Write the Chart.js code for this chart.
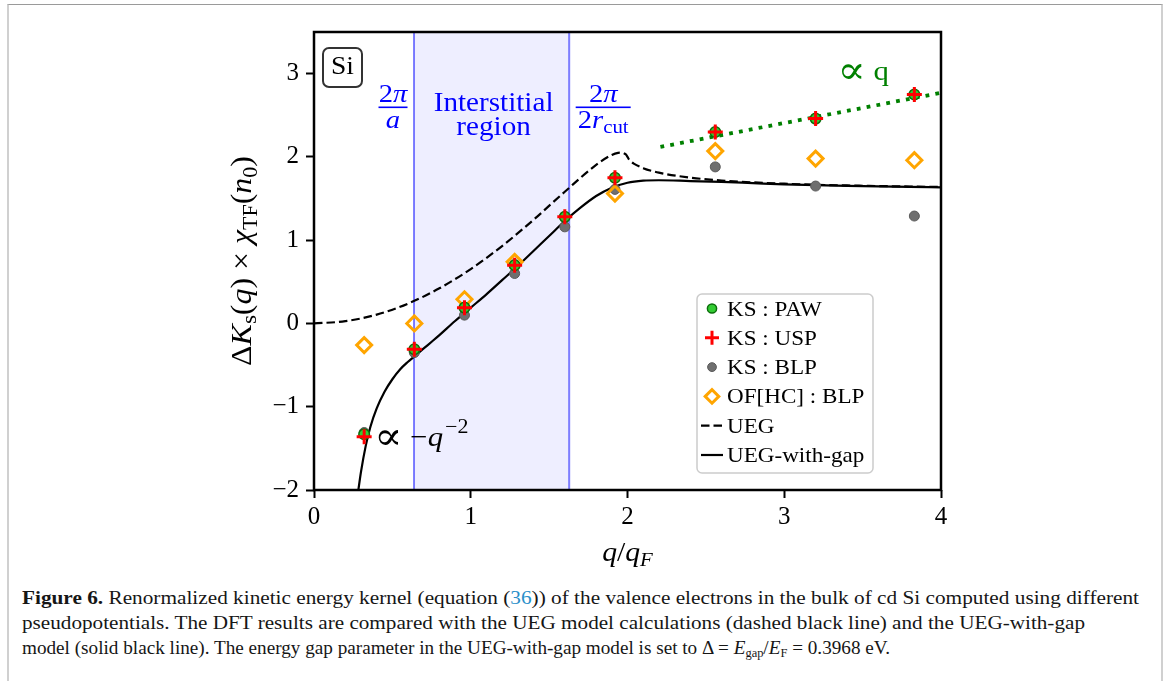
<!DOCTYPE html>
<html>
<head>
<meta charset="utf-8">
<script src="https://cdn.jsdelivr.net/npm/chart.js@4.4.1/dist/chart.umd.min.js"></script>
<style>
  html, body { margin: 0; padding: 0; background: #fff; }
  body { width: 1167px; height: 681px; position: relative; overflow: hidden; }
  #frame { position: absolute; left: 7px; top: 4px; width: 1152px; height: 720px;
           border-left: 2px solid #d0d0d0; border-right: 2px solid #d0d0d0; border-top: 1px solid #9a9a9a; }
  #plot { position: absolute; left: 0; top: 0; }
  #caption { position: absolute; left: 22px; top: 586px; font-family: "Liberation Serif", serif;
             font-size: 18.5px; color: #161616; }
  .ln { white-space: nowrap; height: 25px; line-height: 25px; transform-origin: 0 50%; width: max-content; }
  .ln sub { font-size: 12px; vertical-align: -3px; line-height: 0; }
  .ref { color: #2a8fc9; }
</style>
</head>
<body>
<div id="frame"></div>
<canvas id="plot" width="1167" height="580"></canvas>
<div id="caption">
  <div class="ln" data-w="1117"><b>Figure 6.</b> Renormalized kinetic energy kernel (equation (<span class="ref">36</span>)) of the valence electrons in the bulk of cd Si computed using different</div>
  <div class="ln" data-w="1063">pseudopotentials. The DFT results are compared with the UEG model calculations (dashed black line) and the UEG-with-gap</div>
  <div class="ln" data-w="868">model (solid black line). The energy gap parameter in the UEG-with-gap model is set to Δ = <i>E</i><sub>gap</sub>/<i>E</i><sub>F</sub> = 0.3968 eV.</div>
</div>
<script>
// ---- data ---------------------------------------------------------------
// wave vectors of the sampled points (q / q_F)
const qSample  = [0.32, 0.64, 0.96, 1.28, 1.60, 1.92, 2.56, 3.20, 3.83];
// renormalized kernel values for each pseudopotential / method
const ksPAW    = [-1.33, -0.31, 0.19, 0.70, 1.28, 1.75, 2.30, 2.46, 2.75];
const ksUSP    = [-1.36, -0.31, 0.19, 0.70, 1.28, 1.75, 2.30, 2.46, 2.75];
const ksBLP    = [-1.31, -0.35, 0.10, 0.60, 1.16, 1.61, 1.88, 1.65, 1.29];
const ofhcBLP  = [-0.26, 0.00, 0.29, 0.74, null, 1.56, 2.07, 1.98, 1.96];

// UEG model curve
const uegQ = [0, 0.2, 0.4, 0.6, 0.8, 1.0, 1.2, 1.4, 1.6, 1.8, 1.9, 1.94, 1.96, 1.98, 1.99, 2.0,
              2.01, 2.02, 2.04, 2.1, 2.2, 2.4, 2.6, 2.8, 3.0, 3.2, 3.4, 3.6, 3.8, 4.0];
const uegK = [0, 0.027, 0.106, 0.238, 0.422, 0.653, 0.930, 1.244, 1.582, 1.904, 2.024, 2.049, 2.051, 2.041, 2.028, 2.000,
              1.968, 1.949, 1.920, 1.865, 1.811, 1.751, 1.717, 1.694, 1.678, 1.666, 1.657, 1.650, 1.644, 1.639];

// UEG-with-gap model curve
const gapQ = [0.28, 0.30, 0.33, 0.36, 0.40, 0.45, 0.50, 0.55, 0.60, 0.65, 0.70, 0.76, 0.80, 0.90,
              1.0, 1.1, 1.2, 1.3, 1.4, 1.5, 1.6, 1.7, 1.8, 1.9, 2.0, 2.1, 2.2, 2.4, 2.6, 2.8, 3.0, 3.2, 3.5, 3.8, 4.0];
const gapK = [-2.04, -1.78, -1.47, -1.24, -1.02, -0.82, -0.67, -0.55, -0.46, -0.38, -0.30, -0.205, -0.14, 0.03,
              0.19, 0.35, 0.52, 0.69, 0.87, 1.05, 1.23, 1.39, 1.53, 1.63, 1.69, 1.715, 1.72, 1.71, 1.70, 1.685, 1.67, 1.66, 1.65, 1.64, 1.635];

// linear (∝ q) guide
const trendQ = [2.21, 4.0];
const trendK = [2.12, 2.77];

// characteristic wave vectors: 2π/a and 2π/(2 r_cut)
const qLattice = 0.638;
const qCut = 1.628;

// axis ranges and tick labels
const xMin = 0, xMax = 4, yMin = -2, yMax = 3.5;
const xTicks = [0, 1, 2, 3, 4];
const yTicks = [-2, -1, 0, 1, 2, 3];

// ---- helpers ------------------------------------------------------------
const pts = (xs, ys) => xs.map((x, i) => ({ x, y: ys[i] })).filter(p => p.y !== null);
const FAM = '"Liberation Serif", "DejaVu Serif", serif';
const F = (size, italic) => (italic ? 'italic ' : '') + size + 'px ' + FAM;
const STRETCH = 1.1;

function segWidth(ctx, s) { ctx.font = s.f; return ctx.measureText(s.t).width * STRETCH + (s.gap || 0); }
function richWidth(ctx, segs) { return segs.reduce((w, s) => w + segWidth(ctx, s), 0); }
function drawRich(ctx, segs, x, y, align, color) {
  const w = richWidth(ctx, segs);
  let cx = align === 'center' ? x - w / 2 : align === 'right' ? x - w : x;
  ctx.fillStyle = color || '#000';
  ctx.textAlign = 'left';
  ctx.textBaseline = 'alphabetic';
  for (const s of segs) {
    ctx.font = s.f;
    ctx.save();
    ctx.translate(cx, y + (s.dy || 0));
    ctx.scale(STRETCH, 1);
    ctx.fillText(s.t, 0, 0);
    ctx.restore();
    cx += segWidth(ctx, s);
  }
  return w;
}
const fmtTick = v => (v < 0 ? '\u2212' + Math.abs(v) : String(v));

// ---- decorations plugin -------------------------------------------------
const decorations = {
  id: 'decorations',
  beforeDatasetsDraw(chart) {
    const { ctx, chartArea: a, scales: { x } } = chart;
    ctx.save();
    ctx.fillStyle = 'rgba(0, 0, 255, 0.065)';
    const x0 = x.getPixelForValue(qLattice), x1 = x.getPixelForValue(qCut);
    ctx.fillRect(x0, a.top, x1 - x0, a.bottom - a.top);
    ctx.restore();
  },
  afterDatasetsDraw(chart) {
    const { ctx, chartArea: a, scales: { x, y } } = chart;
    ctx.save();

    // frame
    ctx.strokeStyle = '#000';
    ctx.lineWidth = 2.5;
    ctx.strokeRect(a.left, a.top, a.right - a.left, a.bottom - a.top);

    // element label box
    const bx = a.left + 9, by = a.top + 16, bw = 39, bh = 39;
    ctx.beginPath();
    ctx.roundRect(bx, by, bw, bh, 6);
    ctx.fillStyle = '#fff';
    ctx.fill();
    ctx.lineWidth = 2;
    ctx.strokeStyle = '#333';
    ctx.stroke();
    drawRich(ctx, [{ t: 'Si', f: F(25) }], bx + bw / 2, by + 26, 'center', '#000');

    // 2π/a fraction
    const blue = '#0000ff';
    const xa = x.getPixelForValue(qLattice) - 21;
    drawRich(ctx, [{ t: '2', f: F(26) }, { t: 'π', f: F(26, true) }], xa, a.top + 70, 'center', blue);
    ctx.fillStyle = blue;
    ctx.fillRect(xa - 14.5, a.top + 74.5, 29, 1.6);
    drawRich(ctx, [{ t: 'a', f: F(26, true) }], xa, a.top + 96, 'center', blue);

    // 2π/(2 r_cut) fraction
    const xc = x.getPixelForValue(qCut) + 34;
    drawRich(ctx, [{ t: '2', f: F(26) }, { t: 'π', f: F(26, true) }], xc, a.top + 70, 'center', blue);
    ctx.fillStyle = blue;
    ctx.fillRect(xc - 27.5, a.top + 74.5, 55, 1.6);
    drawRich(ctx, [{ t: '2', f: F(26) }, { t: 'r', f: F(26, true) }, { t: 'cut', f: F(19), dy: 5 }],
             xc, a.top + 96, 'center', blue);

    // interstitial label
    const xm = (x.getPixelForValue(qLattice) + x.getPixelForValue(qCut)) / 2 + 2;
    drawRich(ctx, [{ t: 'Interstitial', f: F(26.5) }], xm, a.top + 79, 'center', blue);
    drawRich(ctx, [{ t: 'region', f: F(26.5) }], xm, a.top + 103, 'center', blue);

    // ∝ q guide label
    drawRich(ctx, [{ t: '∝', f: F(38), dy: 3 }, { t: ' q', f: F(28) }],
             x.getPixelForValue(3.34), y.getPixelForValue(2.92), 'left', '#008000');

    // ∝ −q^−2 label
    drawRich(ctx, [{ t: '∝', f: F(38), dy: 3 }, { t: ' \u2212', f: F(28) }, { t: 'q', f: F(28, true), gap: 2 },
                   { t: '\u22122', f: F(20), dy: -13 }],
             x.getPixelForValue(0.385), y.getPixelForValue(-1.47), 'left', '#000');

    // axis titles
    drawRich(ctx, [{ t: 'q', f: F(27, true) }, { t: '/', f: F(27) }, { t: 'q', f: F(27, true) },
                   { t: 'F', f: F(19, true), dy: 5 }],
             (a.left + a.right) / 2, a.bottom + 71, 'center', '#000');
    ctx.save();
    ctx.translate(242, (a.top + a.bottom) / 2);
    ctx.rotate(-Math.PI / 2);
    drawRich(ctx, [{ t: 'Δ', f: F(29) }, { t: 'K', f: F(29, true) }, { t: 's', f: F(21), dy: 5 },
                   { t: '(', f: F(29) }, { t: 'q', f: F(29, true) }, { t: ')', f: F(29) },
                   { t: ' × ', f: F(29) }, { t: 'χ', f: F(29, true) }, { t: 'TF', f: F(20), dy: 6 },
                   { t: '(', f: F(29) }, { t: 'n', f: F(29, true) }, { t: '0', f: F(20), dy: 6 },
                   { t: ')', f: F(29) }], 0, 9, 'center', '#000');
    ctx.restore();

    // legend
    const lw = 176, lh = 179;
    const lx = a.right - 68 - lw, ly = a.bottom - 17 - lh;
    ctx.beginPath();
    ctx.roundRect(lx, ly, lw, lh, 5);
    ctx.fillStyle = 'rgba(255,255,255,0.85)';
    ctx.fill();
    ctx.lineWidth = 1.5;
    ctx.strokeStyle = '#cccccc';
    ctx.stroke();
    const items = chart.data.datasets.filter(d => d.inLegend);
    items.forEach((d, i) => {
      const cy = ly + 14.5 + i * 29.3;
      const mx = lx + 15;
      ctx.save();
      if (d.showLine) {
        ctx.strokeStyle = d.borderColor;
        ctx.lineWidth = d.borderWidth;
        ctx.setLineDash(d.borderDash || []);
        ctx.beginPath();
        ctx.moveTo(mx - 11, cy);
        ctx.lineTo(mx + 11, cy);
        ctx.stroke();
      } else {
        ctx.fillStyle = d.pointBackgroundColor;
        ctx.strokeStyle = d.pointBorderColor;
        ctx.lineWidth = d.pointBorderWidth;
        Chart.helpers.drawPoint(ctx, {
          pointStyle: d.pointStyle, radius: d.legendRadius, rotation: 0, borderWidth: d.pointBorderWidth
        }, mx, cy);
      }
      ctx.restore();
      drawRich(ctx, [{ t: d.label, f: F(21) }], lx + 30, cy + 7, 'left', '#000');
    });

    ctx.restore();
  }
};

// ---- chart --------------------------------------------------------------
const vline = q => [{ x: q, y: yMin }, { x: q, y: yMax }];

new Chart(document.getElementById('plot'), {
  type: 'scatter',
  data: {
    datasets: [
      { label: 'KS : PAW', inLegend: true, data: pts(qSample, ksPAW), showLine: false,
        pointStyle: 'circle', pointRadius: 5.3, legendRadius: 4.6,
        pointBackgroundColor: '#33cc33', pointBorderColor: '#0b6e0b', pointBorderWidth: 1.5, order: 2 },
      { label: 'KS : USP', inLegend: true, data: pts(qSample, ksUSP), showLine: false,
        pointStyle: 'cross', pointRadius: 7.5, legendRadius: 7,
        pointBackgroundColor: '#ff0000', pointBorderColor: '#ff0000', pointBorderWidth: 3, order: 1 },
      { label: 'KS : BLP', inLegend: true, data: pts(qSample, ksBLP), showLine: false,
        pointStyle: 'circle', pointRadius: 5, legendRadius: 4.4,
        pointBackgroundColor: '#6f6f6f', pointBorderColor: '#5a5a5a', pointBorderWidth: 1, order: 4 },
      { label: 'OF[HC] : BLP', inLegend: true, data: pts(qSample, ofhcBLP), showLine: false,
        pointStyle: 'rectRot', pointRadius: 7.5, legendRadius: 6.8,
        pointBackgroundColor: 'rgba(0,0,0,0)', pointBorderColor: '#ffa500', pointBorderWidth: 3, order: 3 },
      { label: 'UEG', inLegend: true, data: pts(uegQ, uegK), showLine: true,
        borderColor: '#000', borderWidth: 2.2, borderDash: [8.5, 4], pointRadius: 0,
        cubicInterpolationMode: 'monotone', order: 5 },
      { label: 'UEG-with-gap', inLegend: true, data: pts(gapQ, gapK), showLine: true,
        borderColor: '#000', borderWidth: 2.2, pointRadius: 0,
        cubicInterpolationMode: 'monotone', order: 6 },
      { label: '∝ q', data: pts(trendQ, trendK), showLine: true,
        borderColor: '#008000', borderWidth: 3.8, borderDash: [3.8, 6.2], borderCapStyle: 'butt', pointRadius: 0, order: 7 },
      { label: '2π/a', data: vline(qLattice), showLine: true,
        borderColor: 'rgba(0,0,255,0.5)', borderWidth: 2, pointRadius: 0, order: 8 },
      { label: '2π/2r_cut', data: vline(qCut), showLine: true,
        borderColor: 'rgba(0,0,255,0.5)', borderWidth: 2, pointRadius: 0, order: 8 }
    ]
  },
  options: {
    responsive: false,
    animation: false,
    events: [],
    layout: { padding: { left: 0, right: 226, top: 32, bottom: 0 } },
    plugins: { legend: { display: false }, tooltip: { enabled: false } },
    scales: {
      x: {
        type: 'linear', min: xMin, max: xMax,
        afterBuildTicks: s => { s.ticks = xTicks.map(v => ({ value: v })); },
        afterFit: s => { s.height = 90; },
        border: { display: false },
        grid: { drawOnChartArea: false, drawTicks: true, tickLength: 8, tickWidth: 2, tickColor: '#000' },
        ticks: { color: '#000', padding: 4, maxRotation: 0, autoSkip: false,
                 font: { family: FAM, size: 25 }, callback: fmtTick }
      },
      y: {
        type: 'linear', min: yMin, max: yMax,
        afterBuildTicks: s => { s.ticks = yTicks.map(v => ({ value: v })); },
        afterFit: s => { s.width = 314; },
        border: { display: false },
        grid: { drawOnChartArea: false, drawTicks: true, tickLength: 8, tickWidth: 2, tickColor: '#000' },
        ticks: { color: '#000', padding: 7, autoSkip: false,
                 font: { family: FAM, size: 25 }, callback: fmtTick }
      }
    }
  },
  plugins: [decorations]
});

// fit caption lines to their measured widths
document.querySelectorAll('#caption .ln').forEach(el => {
  const target = parseFloat(el.dataset.w);
  const w = el.getBoundingClientRect().width;
  if (w > 0) el.style.transform = 'scaleX(' + (target / w) + ')';
});
</script>
</body>
</html>
